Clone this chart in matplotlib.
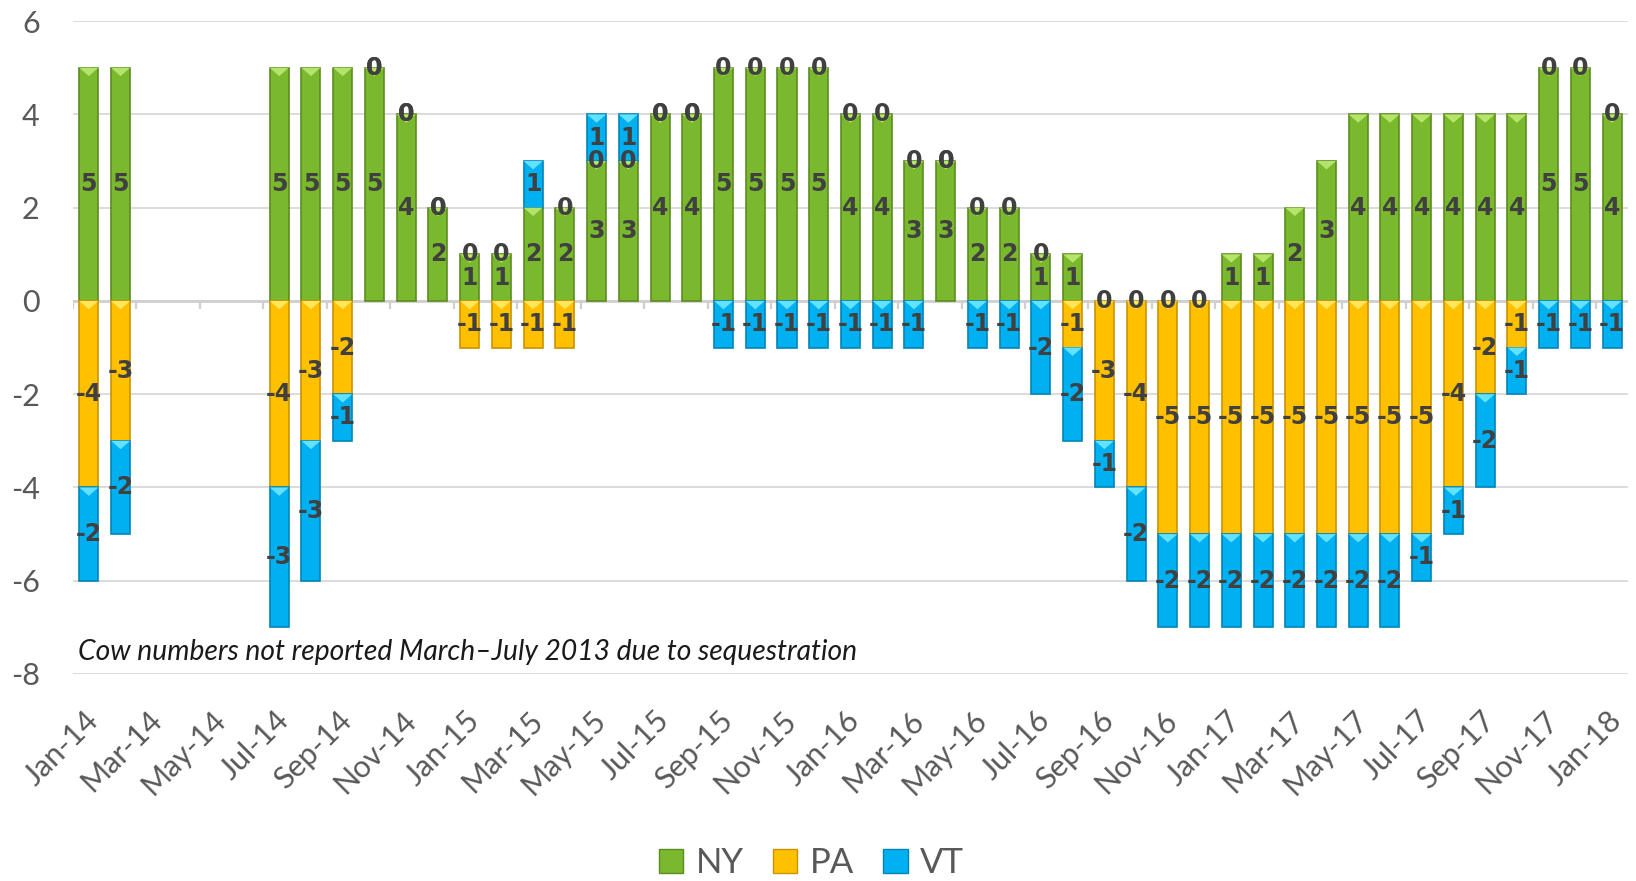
import numpy as np
import pandas as pd
import matplotlib
matplotlib.use("Agg")
import matplotlib.pyplot as plt
import matplotlib.transforms as mtransforms
from matplotlib.patches import Patch, Polygon

# monthly categories, Jan-14 .. Jan-18
months = list(pd.date_range("2014-01-01", periods=49, freq="MS").strftime("%b-%y"))

nan = np.nan
ny = [5, 5, nan, nan, nan, nan, 5, 5, 5, 5, 4, 2,
      1, 1, 2, 2, 3, 3, 4, 4, 5, 5, 5, 5,
      4, 4, 3, 3, 2, 2, 1, 1, 0, 0, 0, 0,
      1, 1, 2, 3, 4, 4, 4, 4, 4, 4, 5, 5,
      4]
pa = [-4, -3, nan, nan, nan, nan, -4, -3, -2, 0, 0, 0,
      -1, -1, -1, -1, 0, 0, 0, 0, 0, 0, 0, 0,
      0, 0, 0, 0, 0, 0, 0, -1, -3, -4, -5, -5,
      -5, -5, -5, -5, -5, -5, -5, -4, -2, -1, 0, 0,
      0]
vt = [-2, -2, nan, nan, nan, nan, -3, -3, -1, 0, 0, 0,
      0, 0, 1, 0, 1, 1, 0, 0, -1, -1, -1, -1,
      -1, -1, -1, 0, -1, -1, -2, -2, -1, -2, -2, -2,
      -2, -2, -2, -2, -2, -2, -1, -1, -2, -1, -1, -1,
      -1]

series = [("NY", ny), ("PA", pa), ("VT", vt)]
colors = {"NY": ("#7AB82E", "#B4E46A", "#5C8C20"),
          "PA": ("#FFC000", "#FFE65A", "#C99400"),
          "VT": ("#00B0F0", "#62E2FF", "#0085B8")}

plt.rcParams["font.family"] = ["Lato", "DejaVu Sans"]
plt.rcParams["axes.unicode_minus"] = False

fig = plt.figure(figsize=(16.36, 8.81), dpi=100)
ax = fig.add_axes([0.0446, 0.235, 0.9505, 0.741])

x = np.arange(len(months))
w = 0.6
pos_top = np.zeros(len(months))
neg_bot = np.zeros(len(months))

for name, vals in series:
    vals = np.array(vals, dtype=float)
    main, light, edge = colors[name]
    for i, v in enumerate(vals):
        if np.isnan(v):
            continue
        if v >= 0:
            bottom = pos_top[i]
            pos_top[i] += v
        else:
            bottom = neg_bot[i] + v
            neg_bot[i] += v
        if v != 0:
            ax.bar(x[i], abs(v), bottom=bottom, width=w, color=main,
                   edgecolor=edge, linewidth=1.2, zorder=3)
            top = bottom + abs(v)
            # lighter bevel at the top of each segment
            ax.add_patch(Polygon([[x[i] - w / 2, top], [x[i] + w / 2, top],
                                  [x[i], top - 0.18]], closed=True,
                                 facecolor=light, edgecolor="none", zorder=4))
        ax.text(x[i], bottom + abs(v) / 2, f"{int(v)}", ha="center", va="center",
                fontsize=17, fontweight="bold", color="#404040",
                family="DejaVu Sans", zorder=6)

ax.set_xlim(-0.5, len(months) - 0.5)
ax.set_ylim(-8, 6)
ax.set_yticks(np.arange(-8, 7, 2))
ax.yaxis.grid(True, color="#D9D9D9", linewidth=1.3, zorder=0)
ax.set_axisbelow(True)
for s in ax.spines.values():
    s.set_visible(False)

# category axis at zero with tick marks every two months
ax.axhline(0, color="#CFCFCF", linewidth=2.0, zorder=2)
ax.vlines(np.arange(-0.5, len(months), 2), -0.18, 0, color="#CFCFCF",
          linewidth=1.6, zorder=2)

ax.tick_params(axis="y", length=0, pad=24, labelsize=22, labelcolor="#595959")
ax.set_xticks(x[::2])
ax.set_xticklabels(months[::2], rotation=45, ha="right", va="center",
                   rotation_mode="anchor", fontsize=22, color="#595959")
ax.tick_params(axis="x", length=0, pad=30)
offset = mtransforms.ScaledTranslation(0.05, 0, fig.dpi_scale_trans)
for lab in ax.get_xticklabels():
    lab.set_transform(lab.get_transform() + offset)

ax.text(0.0034, 0.034, "Cow numbers not reported March\u2013July 2013 due to sequestration",
        transform=ax.transAxes, ha="left", va="center", fontsize=20.3,
        style="italic", color="#1A1A1A")

handles = [Patch(facecolor=colors[n][0], edgecolor=colors[n][2], label=n)
           for n, _ in series]
fig.legend(handles=handles, loc="center", bbox_to_anchor=(0.496, 0.02), ncol=3,
           frameon=False, fontsize=25, handlelength=0.7, handleheight=0.7,
           handletextpad=0.35, columnspacing=0.85, labelcolor="#595959")

fig.savefig("out.png", dpi=100)
